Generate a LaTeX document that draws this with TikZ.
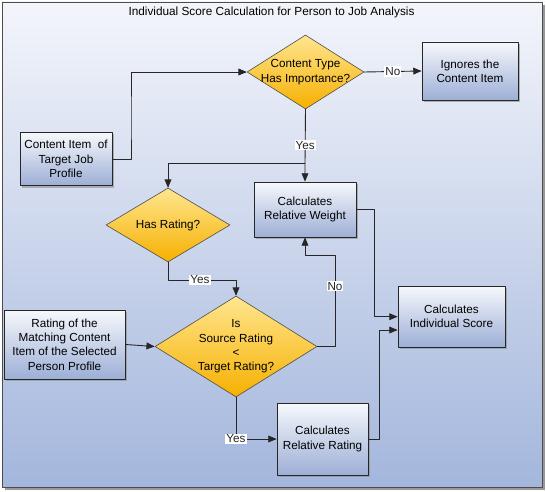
\documentclass[tikz,border=0pt]{standalone}
\usepackage{fontspec}
\setmainfont{Liberation Sans}
\usepackage{tikz}
\usetikzlibrary{arrows}
\usetikzlibrary{shapes.geometric}
\usetikzlibrary{shadows}
\definecolor{bgtop}{HTML}{F3F5FB}
\definecolor{bgbot}{HTML}{A3B6DC}
\definecolor{boxtop}{HTML}{F6F8FC}
\definecolor{boxbot}{HTML}{9DAFD6}
\definecolor{dtop}{HTML}{FFE690}
\definecolor{dbot}{HTML}{F6B000}
\begin{document}
\begin{tikzpicture}[line cap=round,line join=round,>=triangle 45,x=1.0pt,y=-1.0pt,
    box/.style={rectangle,draw=black!85,line width=0.9pt,top color=boxtop,bottom color=boxbot,
      drop shadow={shadow xshift=2pt,shadow yshift=-2pt,fill=black!45,opacity=0.6},
      align=center,inner sep=1pt,font=\fontsize{11.7}{14.3}\selectfont},
    choice/.style={diamond,draw=black!70,line width=0.6pt,top color=dtop,bottom color=dbot,inner sep=0pt},
    ctext/.style={align=center,font=\fontsize{11.7}{14.4}\selectfont},
    answer/.style={fill=white,inner sep=1pt,font=\fontsize{11.7}{13}\selectfont},
    flow/.style={->,line width=0.9pt,black!85}]
      \useasboundingbox (0,0) rectangle (546,492);
      % frame
      \fill[black!40] (5,5) rectangle (545,490);
      \draw[black!70,top color=bgtop,bottom color=bgbot] (2,2) rectangle (542,487);
      \node[font=\fontsize{11.8}{13}\selectfont] (title) at (271.5,12) {Individual Score Calculation for Person to Job Analysis};
      % decisions
      \node[choice,minimum width=117pt,minimum height=74pt] (imp) at (305.5,72) {};
      \node[ctext] (impt) at (imp) {Content Type\\Has Importance?};
      \node[choice,minimum width=124pt,minimum height=74pt] (has) at (168,225) {};
      \node[ctext] (hast) at (has) {Has Rating?};
      \node[choice,minimum width=162pt,minimum height=101pt] (cmp) at (236,346.5) {};
      \node[ctext] (cmpt) at (cmp) {Is\\Source Rating\\{<}\\Target Rating?};
      % boxes
      \node[box,minimum width=96pt,minimum height=58pt] (ignore) at (470,71) {Ignores the\\Content Item};
      \node[box,minimum width=92pt,minimum height=53pt] (item) at (66,159) {Content Item~ of\\Target Job\\Profile};
      \node[box,minimum width=102pt,minimum height=55pt] (weight) at (305,209.5) {Calculates\\Relative Weight};
      \node[box,minimum width=121pt,minimum height=69pt] (person) at (64.5,344.5) {Rating of the\\Matching Content\\Item of the Selected\\Person Profile};
      \node[box,minimum width=107pt,minimum height=61pt] (score) at (451.5,316.5) {Calculates\\Individual Score};
      \node[box,minimum width=91pt,minimum height=72pt] (rating) at (322.5,439) {Calculates\\Relative Rating};
      % connectors
      \coordinate (split) at (305,163);
      \draw[flow] (item.east) -| (131,120) |- (imp.west);
      \draw[flow] (imp.east) -- node[answer] (no1) {No} (ignore.west);
      \draw[flow] (imp.south) -- node[answer,pos=0.67] (yes1) {Yes} (split) -- (weight.north);
      \draw[flow] (split) -| (has.north);
      \draw[flow] (has.south) |- node[answer,pos=0.735] (yes2) {Yes} (236,280) -- (cmp.north);
      \draw[flow] (cmp.east) -| node[answer,pos=0.83] (no2) {No} (335,255) -| (weight.south);
      \draw[flow] (person.east) -- (cmp.west);
      \draw[flow] (cmp.south) |- node[answer,pos=0.5] (yes3) {Yes} (rating.west);
      \draw[flow] (weight.east) -| (374,316.7) -- (score.west|-0,316.7);
      \draw[flow] (rating.east) -| (379,330) -- (score.west|-0,330);
\end{tikzpicture}
\end{document}
